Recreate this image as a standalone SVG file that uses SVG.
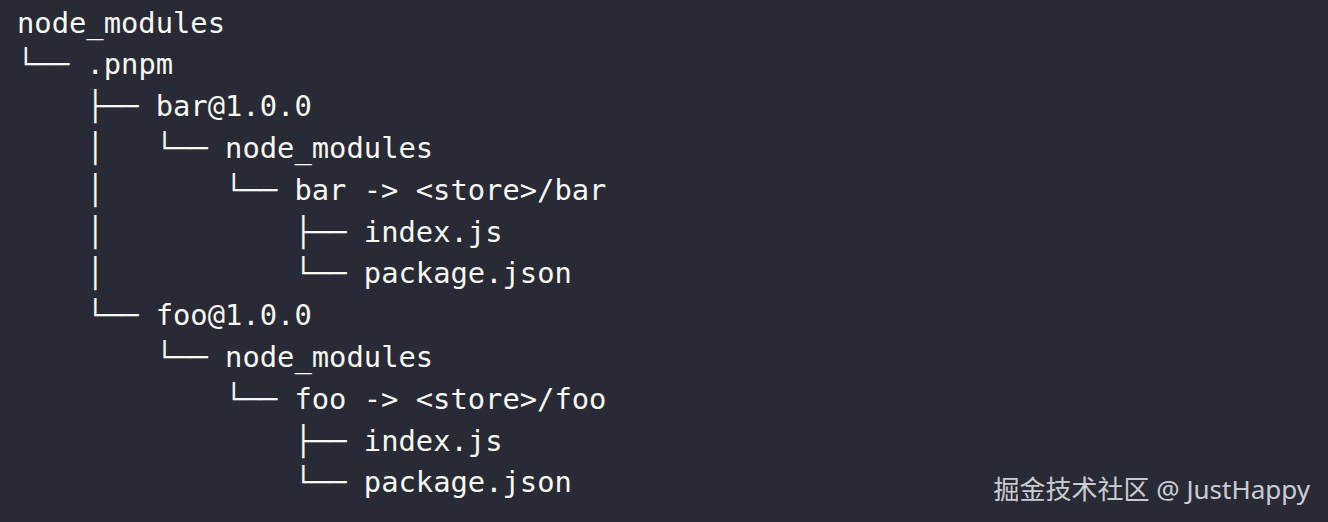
<svg xmlns="http://www.w3.org/2000/svg" width="1328" height="522" viewBox="0 0 1328 522">
<style>
.t{font-family:"DejaVu Sans Mono","Liberation Mono",monospace;font-size:28.8px;fill:#f8f8f2}
.c{font-family:"DejaVu Sans Mono","Liberation Mono",monospace;font-size:28.8px;fill:#f8f8f2}
.wm{font-family:"Noto Sans","Noto Sans CJK SC",sans-serif;font-size:26px;fill:#e2e2e6;fill-opacity:0.9}
</style>
<rect width="1328" height="522" fill="#282a36"/>
<g id="connectors" class="c">
<text x="17" y="74.3">└──</text>
<text x="86.4" y="116.1">├──</text>
<text x="86.4" y="157.9">│</text><text x="155.7" y="157.9">└──</text>
<text x="86.4" y="199.7">│</text><text x="225.1" y="199.7">└──</text>
<text x="86.4" y="241.5">│</text><text x="294.4" y="241.5">├──</text>
<text x="86.4" y="283.3">│</text><text x="294.4" y="283.3">└──</text>
<text x="86.4" y="325.1">└──</text>
<text x="155.7" y="366.9">└──</text>
<text x="225.1" y="408.7">└──</text>
<text x="294.4" y="450.5">├──</text>
<text x="294.4" y="492.3">└──</text>
</g>
<g id="root"><text class="t" x="17" y="32.5">node_modules</text></g>
<g id="pnpm"><text class="t" x="86.4" y="74.3">.pnpm</text></g>
<g id="bar"><text class="t" x="155.7" y="116.1">bar@1.0.0</text></g>
<g id="bar-nm"><text class="t" x="225.1" y="157.9">node_modules</text></g>
<g id="bar-link"><text class="t" x="294.4" y="199.7">bar -&gt; &lt;store&gt;/bar</text></g>
<g id="bar-index"><text class="t" x="363.8" y="241.5">index.js</text></g>
<g id="bar-pkg"><text class="t" x="363.8" y="283.3">package.json</text></g>
<g id="foo"><text class="t" x="155.7" y="325.1">foo@1.0.0</text></g>
<g id="foo-nm"><text class="t" x="225.1" y="366.9">node_modules</text></g>
<g id="foo-link"><text class="t" x="294.4" y="408.7">foo -&gt; &lt;store&gt;/foo</text></g>
<g id="foo-index"><text class="t" x="363.8" y="450.5">index.js</text></g>
<g id="foo-pkg"><text class="t" x="363.8" y="492.3">package.json</text></g>
<g id="watermark"><text class="wm" x="1310" y="499" text-anchor="end">掘金技术社区 @ JustHappy</text></g>
</svg>
